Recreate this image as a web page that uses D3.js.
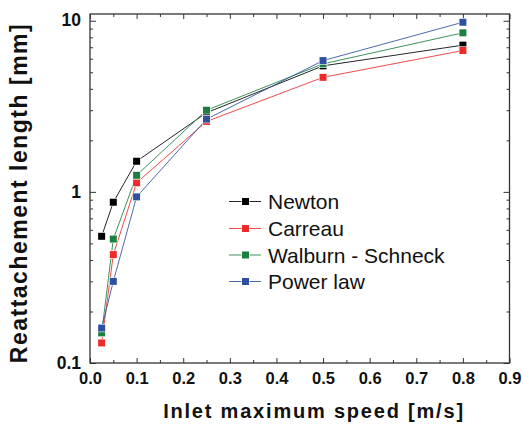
<!DOCTYPE html>
<html>
<head>
<meta charset="utf-8">
<script src="https://cdn.jsdelivr.net/npm/d3@7"></script>
<style>
html,body{margin:0;padding:0;background:#fff;}
svg text{font-family:Arial,"Liberation Sans",sans-serif;}
</style>
</head>
<body>
<svg id="chart" width="524" height="425"></svg>
<script>
const speeds = [0.025, 0.05, 0.1, 0.25, 0.5, 0.8];
const newton = [0.55, 0.87, 1.51, 2.9, 5.45, 7.2];
const carreau = [0.131, 0.43, 1.13, 2.58, 4.67, 6.7];
const walburn = [0.15, 0.53, 1.25, 3.0, 5.6, 8.5];
const powerLaw = [0.16, 0.30, 0.935, 2.66, 5.85, 9.8];
const seriesNames = ["Newton", "Carreau", "Walburn - Schneck", "Power law"];
const seriesColors = ["#000000", "#ee2a2a", "#1b7f3f", "#2f4fa0"];
const xTicks = [0, 0.1, 0.2, 0.3, 0.4, 0.5, 0.6, 0.7, 0.8, 0.9];
const yTicks = [0.1, 1, 10];

const allSeries = [newton, carreau, walburn, powerLaw];

const svg = d3.select("#chart");
const L = 90, R = 509.5, T = 14, B = 363;
const x = d3.scaleLinear().domain([0, 0.9]).range([L, R]);
const y = d3.scaleLog().domain([0.1, 10.95]).range([B, T]);

const frameColor = "#333";

const xMinor = d3.range(0.05, 0.9, 0.1);
const yMinor = [];
[0.1, 1].forEach(d => { for (let k = 2; k <= 9; k++) yMinor.push(d * k); });

const g = svg.append("g");

const xAxisB = d3.axisBottom(x).tickValues(xTicks).tickSize(-5).tickFormat(d3.format(".1f")).tickPadding(9);
const gxb = g.append("g").attr("transform", `translate(0,${B})`).call(xAxisB);
g.append("g").attr("transform", `translate(0,${B})`).call(d3.axisBottom(x).tickValues(xMinor).tickSize(-3).tickFormat(""));
g.append("g").attr("transform", `translate(0,${T})`).call(d3.axisTop(x).tickValues(xTicks).tickSize(-5).tickFormat(""));
g.append("g").attr("transform", `translate(0,${T})`).call(d3.axisTop(x).tickValues(xMinor).tickSize(-3).tickFormat(""));
const gyl = g.append("g").attr("transform", `translate(${L},0)`).call(
  d3.axisLeft(y).tickValues(yTicks).tickSize(-6).tickPadding(9).tickFormat(d => d === 0.1 ? "0.1" : d3.format("d")(d)));
g.append("g").attr("transform", `translate(${L},0)`).call(d3.axisLeft(y).tickValues(yMinor).tickSize(-3).tickFormat(""));
g.append("g").attr("transform", `translate(${R},0)`).call(d3.axisRight(y).tickValues(yTicks).tickSize(-6).tickFormat(""));
g.append("g").attr("transform", `translate(${R},0)`).call(d3.axisRight(y).tickValues(yMinor).tickSize(-3).tickFormat(""));

g.selectAll(".domain").remove();
g.selectAll(".tick line").attr("stroke", frameColor).attr("stroke-width", 1);

gxb.selectAll("text").attr("font-size", 16.5).attr("font-weight", "bold").attr("fill", "#111");
gyl.selectAll("text").attr("font-size", 17.5).attr("font-weight", "bold").attr("fill", "#111").attr("dy", "0.3em");

svg.append("rect").attr("x", L).attr("y", T).attr("width", R - L).attr("height", B - T)
  .attr("fill", "none").attr("stroke", frameColor).attr("stroke-width", 1.3);

const line = d3.line().x((d, i) => x(speeds[i])).y(d => y(d));
const ms = 7;
allSeries.forEach((vals, si) => {
  svg.append("path").datum(vals).attr("d", line).attr("fill", "none")
    .attr("stroke", seriesColors[si]).attr("stroke-width", 1).attr("stroke-opacity", 0.85);
});
allSeries.forEach((vals, si) => {
  svg.append("g").selectAll("rect").data(vals).join("rect")
    .attr("x", (d, i) => x(speeds[i]) - ms / 2)
    .attr("y", d => y(d) - ms / 2)
    .attr("width", ms).attr("height", ms)
    .attr("fill", seriesColors[si])
    .attr("stroke", "#fff").attr("stroke-width", 1.2).attr("paint-order", "stroke");
});

const legY = [201.5, 228.5, 255, 281.5];
const leg = svg.append("g");
seriesNames.forEach((name, i) => {
  const yy = legY[i];
  leg.append("line").attr("x1", 229).attr("x2", 261).attr("y1", yy).attr("y2", yy)
    .attr("stroke", seriesColors[i]).attr("stroke-width", 1).attr("stroke-opacity", 0.85);
  leg.append("rect").attr("x", 245.5 - 3.5).attr("y", yy - 3.5).attr("width", 7).attr("height", 7)
    .attr("fill", seriesColors[i]).attr("stroke", "#fff").attr("stroke-width", 1.2).attr("paint-order", "stroke");
  leg.append("text").attr("x", 268).attr("y", yy).attr("dy", "0.36em")
    .attr("font-size", 21).attr("fill", "#111").text(name);
});

svg.append("text").attr("x", 314).attr("y", 417.5).attr("text-anchor", "middle")
  .attr("font-size", 20).attr("font-weight", "bold").attr("fill", "#111").attr("letter-spacing", 1.8)
  .text("Inlet maximum speed [m/s]");
svg.append("text").attr("transform", `translate(27,193) rotate(-90)`).attr("text-anchor", "middle")
  .attr("font-size", 23).attr("font-weight", "bold").attr("fill", "#111").attr("letter-spacing", 1.5)
  .text("Reattachement length [mm]");
</script>
</body>
</html>
